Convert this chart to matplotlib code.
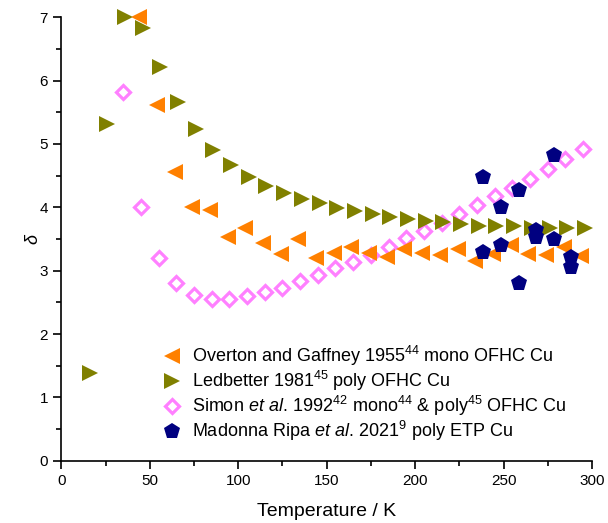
import matplotlib
matplotlib.use("Agg")
import matplotlib.pyplot as plt
from matplotlib.ticker import MultipleLocator

plt.rcParams['font.family'] = ['Liberation Sans', 'DejaVu Sans']
plt.rcParams['mathtext.fontset'] = 'custom'
plt.rcParams['mathtext.rm'] = 'Liberation Sans'
plt.rcParams['mathtext.it'] = 'Liberation Sans:italic'
plt.rcParams['mathtext.bf'] = 'Liberation Sans:bold'

# Overton and Gaffney 1955
overton_T = [44, 54, 64, 74, 84, 94, 104, 114, 124, 134, 144, 154, 164, 174,
             184, 194, 204, 214, 224, 234, 244, 254, 264, 274, 284, 294]
overton_d = [7.01, 5.61, 4.55, 4.00, 3.96, 3.53, 3.68, 3.44, 3.27, 3.50, 3.20,
             3.28, 3.37, 3.28, 3.21, 3.34, 3.28, 3.24, 3.35, 3.16, 3.27, 3.41,
             3.26, 3.25, 3.37, 3.23]

# Ledbetter 1981
ledbetter_T = [16, 26, 36, 46, 56, 66, 76, 86, 96, 106, 116, 126, 136, 146, 156,
               166, 176, 186, 196, 206, 216, 226, 236, 246, 256, 266, 276, 286, 296]
ledbetter_d = [1.38, 5.31, 7.00, 6.83, 6.22, 5.66, 5.23, 4.91, 4.67, 4.48, 4.33,
               4.22, 4.13, 4.07, 3.99, 3.94, 3.90, 3.85, 3.82, 3.79, 3.77, 3.74,
               3.71, 3.70, 3.70, 3.68, 3.68, 3.68, 3.68]

# Simon et al. 1992
simon_T = [35, 45, 55, 65, 75, 85, 95, 105, 115, 125, 135, 145, 155, 165, 175,
           185, 195, 205, 215, 225, 235, 245, 255, 265, 275, 285, 295]
simon_d = [5.82, 4.00, 3.20, 2.80, 2.62, 2.56, 2.56, 2.60, 2.66, 2.73, 2.83, 2.93,
           3.05, 3.14, 3.24, 3.38, 3.51, 3.63, 3.76, 3.90, 4.03, 4.18, 4.31, 4.44,
           4.60, 4.76, 4.92]

# Madonna Ripa et al. 2021
madonna_T = [238.5, 238.5, 248.5, 248.5, 258.5, 258.5, 268.5, 268.5, 278.5, 278.5, 288, 288]
madonna_d = [4.48, 3.29, 4.00, 3.41, 4.27, 2.80, 3.65, 3.53, 4.82, 3.50, 3.21, 3.06]

labels = [
    "Overton and Gaffney 1955$^{44}$ mono OFHC Cu",
    "Ledbetter 1981$^{45}$ poly OFHC Cu",
    "Simon $\\mathit{et\\ al.}\\,$1992$^{42}$ mono$^{44}$ & poly$^{45}$ OFHC Cu",
    "Madonna Ripa $\\mathit{et\\ al.}\\,$2021$^{9}$ poly ETP Cu",
]

fig = plt.figure(figsize=(6.08, 5.23), dpi=100)
ax = fig.add_axes([0.1008, 0.119, 0.8729, 0.848])

h1, = ax.plot(overton_T, overton_d, linestyle='none', marker='<', ms=11,
              color='#FF8000', mew=0, zorder=4, clip_on=False)
h2, = ax.plot(ledbetter_T, ledbetter_d, linestyle='none', marker='>', ms=11,
              color='#808000', mew=0, zorder=3, clip_on=False)
h3, = ax.plot(simon_T, simon_d, linestyle='none', marker='D', ms=7.2,
              mfc='none', mec='#FF80FF', mew=2.3, zorder=2, clip_on=False)
h4, = ax.plot(madonna_T, madonna_d, linestyle='none', marker='p', ms=12,
              color='#000080', mew=0, zorder=5, clip_on=False)

ax.set_xlim(0, 300)
ax.set_ylim(0, 7)
ax.xaxis.set_major_locator(MultipleLocator(50))
ax.xaxis.set_minor_locator(MultipleLocator(25))
ax.yaxis.set_major_locator(MultipleLocator(1))
ax.yaxis.set_minor_locator(MultipleLocator(0.5))

for s in ['top', 'right']:
    ax.spines[s].set_visible(False)
for s in ['left', 'bottom']:
    ax.spines[s].set_linewidth(1.2)
ax.tick_params(which='major', direction='out', length=6, width=1.2, labelsize=11)
ax.tick_params(which='minor', direction='out', length=3.5, width=1.2)

ax.set_xlabel("Temperature / K", fontsize=14, labelpad=11)
ax.set_ylabel("δ", fontsize=13, fontstyle='italic', labelpad=-1)

ax.legend([h1, h2, h3, h4], labels, loc='lower left',
          bbox_to_anchor=(0.168, 0.015), frameon=False, fontsize=13,
          handletextpad=0.5, labelspacing=0.05, borderaxespad=0.2,
          handlelength=1.2)

fig.savefig("out.png", dpi=100)
